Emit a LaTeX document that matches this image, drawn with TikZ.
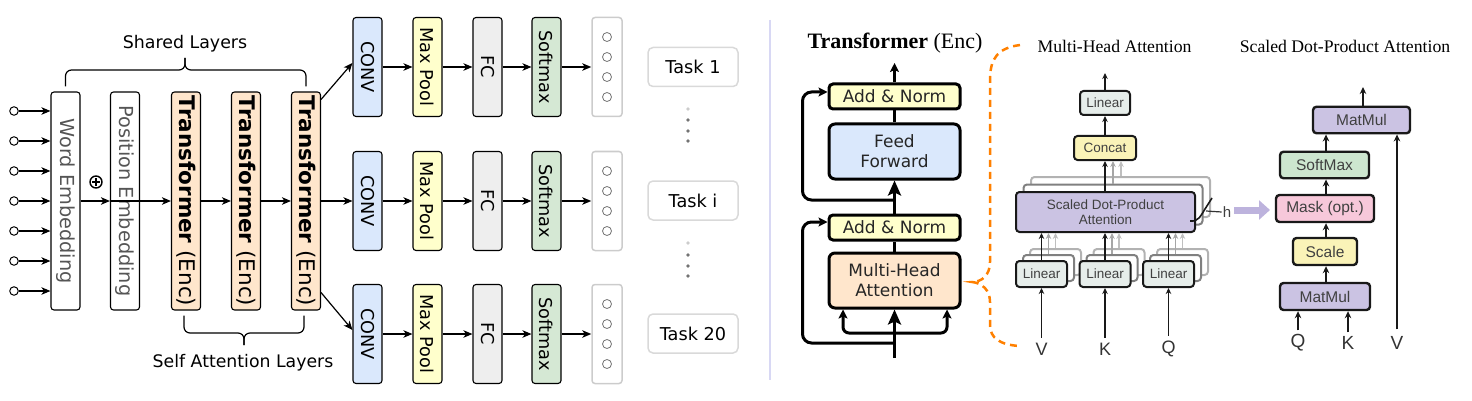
\documentclass[tikz,border=0pt]{standalone}
\usepackage{fontspec}
\setmainfont{DejaVu Sans}
\newfontfamily\timesfont{Liberation Serif}
\newfontfamily\arialfont{Liberation Sans}
\usepackage{xcolor}
\usepackage{tikz}
\usetikzlibrary{arrows.meta}

\definecolor{peach}{HTML}{FFE6CC}
\definecolor{convblue}{HTML}{DAE8FC}
\definecolor{poolyellow}{HTML}{FFFFCC}
\definecolor{fcgray}{HTML}{EEEEEE}
\definecolor{softgreen}{HTML}{D5E8D4}
\definecolor{txtgray}{HTML}{555555}
\definecolor{sepblue}{HTML}{D8D8F4}
\definecolor{braceorange}{HTML}{FF8000}
\definecolor{linfill}{HTML}{E6EDEA}
\definecolor{catfill}{HTML}{FAF3B8}
\definecolor{sdpfill}{HTML}{CBC3E3}
\definecolor{maskpink}{HTML}{F7C8DA}
\definecolor{smgreen}{HTML}{CDE6CF}
\definecolor{hlav}{HTML}{BDB3DD}

\tikzset{
  vbox/.style={draw, line width=1.1pt, rounded corners=3pt, minimum width=29pt, minimum height=218pt, inner sep=0pt},
  rbox/.style={vbox, minimum height=99pt},
  vtext/.style={rotate=-90, font=\fontsize{17.7}{20}\selectfont},
  embtext/.style={vtext, text=txtgray, font=\fontsize{19.3}{22}\selectfont},
  larr/.style={line width=1.2pt, -{Stealth[length=9pt,width=7.5pt,inset=2.5pt]}},
  incirc/.style={circle, draw, line width=1pt, fill=white, minimum size=8.5pt, inner sep=0pt},
  ocirc/.style={circle, draw=black!55, line width=0.8pt, minimum size=9pt, inner sep=0pt},
  taskbox/.style={draw=black!15, line width=1.5pt, rounded corners=5pt, minimum width=90pt, minimum height=39pt, font=\fontsize{17.7}{20}\selectfont},
  bracepath/.style={line width=1.2pt, rounded corners=6pt},
  encbox/.style={draw, line width=3pt, rounded corners=6pt, minimum width=131pt, inner sep=0pt, align=center, text=black!85, font=\fontsize{17}{20}\selectfont},
  earr/.style={line width=3pt, -{Stealth[length=9pt,width=9pt,inset=2pt]}},
  bigarr/.style={line width=3pt, -{Stealth[length=15pt,width=13pt,inset=3pt]}},
  mhbox/.style={draw=black!90, line width=2pt, rounded corners=3.5pt, inner sep=0pt, align=center, text=black!75, font=\arialfont\fontsize{13.5}{15}\selectfont},
  ghost/.style={mhbox, draw=black!30, fill=white},
  mharr/.style={line width=1.8pt, black!90, -{Stealth[length=6pt,width=5.5pt]}},
  ghostarr/.style={mharr, black!35},
  sdbox/.style={mhbox, line width=2.4pt, minimum height=26.5pt, font=\arialfont\fontsize{15.5}{17}\selectfont},
  sdarr/.style={line width=2.2pt, black!90, -{Stealth[length=7pt,width=6.5pt]}}
}

\begin{document}
\begin{tikzpicture}[x=1pt, y=-1pt]
    \useasboundingbox (0,0) rectangle (1472,401);

    % shared layers
    \node[vbox, label={[embtext]center:Word Embedding}] (we) at (65.5,201) {};
    \node[vbox, label={[embtext]center:Position Embedding}] (pe) at (125,201) {};
    \node[vbox, fill=peach, label={[vtext, font=\fontsize{21.5}{24}\selectfont]center:{\bfseries Transformer} (Enc)}] (t1) at (186,201) {};
    \node[vbox, fill=peach, label={[vtext, font=\fontsize{21.5}{24}\selectfont]center:{\bfseries Transformer} (Enc)}] (t2) at (246,201) {};
    \node[vbox, fill=peach, label={[vtext, font=\fontsize{21.5}{24}\selectfont]center:{\bfseries Transformer} (Enc)}] (t3) at (306,201) {};

    \foreach \y [count=\i] in {111,141,171,201,231,261,291} {
        \node[incirc] (in\i) at (14,\y) {};
        \draw[larr] (in\i) -- (in\i -| we.west);
    }

    \node[circle, draw, line width=1.4pt, minimum size=12pt, inner sep=0pt] (plus) at (96,182) {};
    \draw[line width=1.7pt] ([yshift=3.6pt]plus.center) -- ([yshift=-3.6pt]plus.center);
    \draw[line width=1.7pt] ([xshift=-3.6pt]plus.center) -- ([xshift=3.6pt]plus.center);

    \draw[larr] (we) -- (pe);
    \draw[larr] (pe.west) -- (t1);
    \draw[larr] (t1) -- (t2);
    \draw[larr] (t2) -- (t3);

    % braces
    \draw[bracepath] ([yshift=5pt]we.north) |- (185,70) -- (185,58);
    \draw[bracepath] ([yshift=5pt]t3.north) |- (185,70) -- (185,58);
    \node[font=\fontsize{17.4}{20}\selectfont] (sharedlab) at (185,44) {Shared Layers};
    \draw[bracepath] ([xshift=-2pt,yshift=-5pt]t1.south) |- (244,333) -- (244,345);
    \draw[bracepath] ([xshift=-2pt,yshift=-5pt]t3.south) |- (244,333) -- (244,345);
    \node[font=\fontsize{17.3}{20}\selectfont] (selflab) at (243,363) {Self Attention Layers};

    % task heads
    \foreach \r/\y in {1/67,2/201,3/334} {
        \node[rbox, fill=convblue, label={[vtext]center:CONV}] (conv\r) at (367.5,\y) {};
        \node[rbox, fill=poolyellow, label={[vtext]center:Max Pool}] (pool\r) at (427.5,\y) {};
        \node[rbox, fill=fcgray, label={[vtext]center:FC}] (fc\r) at (487.5,\y) {};
        \node[rbox, fill=softgreen, label={[vtext]center:Softmax}] (soft\r) at (546.5,\y) {};
        \node[rbox, draw=black!20, line width=1.5pt, minimum width=30pt] (out\r) at (607,\y) {};
        \foreach \k/\dy in {1/-30,2/-10,3/10,4/30}
            \node[ocirc] (o\r\k) at (607,\y+\dy) {};
        \draw[larr] (conv\r) -- (pool\r);
        \draw[larr] (pool\r) -- (fc\r);
        \draw[larr] (fc\r) -- (soft\r);
        \draw[larr] (soft\r) -- (out\r);
    }
    \draw[larr] ([yshift=-8pt]t3.north east) -- ([yshift=4pt]conv1.west);
    \draw[larr] (t3) -- (conv2);
    \draw[larr] ([yshift=18pt]t3.south east) -- ([yshift=4pt]conv3.west);

    \node[taskbox] (task1) at (693,67) {Task 1};
    \node[taskbox] (taski) at (693,200.5) {Task i};
    \node[taskbox] (task20) at (693,333.5) {Task 20};
    \foreach \y/\c in {109/black!20,120/black!55,131/black!55,141/black!55,243/black!20,255/black!55,266/black!55,276/black!55}
        \fill[\c] (688,\y) circle (1.8);

    % separator
    \draw[sepblue, line width=2.5pt] (770,20) -- (770,380);

    % transformer encoder
    \node[font=\timesfont\fontsize{22}{24}\selectfont] (enchead) at (895,43) {\bfseries Transformer \mdseries(Enc)};
    \node[encbox, fill=poolyellow, minimum height=25pt, rounded corners=4pt] (an2) at (894.5,96.5) {Add \& Norm};
    \node[encbox, fill=convblue, minimum height=55pt] (ff) at (894.5,151.5) {Feed\\Forward};
    \node[encbox, fill=poolyellow, minimum height=25pt, rounded corners=4pt] (an1) at (894.5,227.5) {Add \& Norm};
    \node[encbox, fill=peach, minimum height=55pt] (mha) at (894.5,280.5) {Multi-Head\\Attention};
    \coordinate (encin) at (894.5,358);
    \coordinate (encout) at (894.5,63);
    \coordinate (split) at (894.5,333);
    \coordinate (res1) at (894.5,343);
    \coordinate (res2) at (894.5,200);

    \draw[bigarr] (encin) -- (mha);
    \draw[earr, rounded corners=6pt] (split) -| ([xshift=-51.5pt]mha.south);
    \draw[earr, rounded corners=6pt] (split) -| ([xshift=52.5pt]mha.south);
    \draw[line width=3pt] (mha) -- (an1);
    \draw[earr, rounded corners=9pt] (res1) -| ([xshift=-25pt,yshift=5.5pt]an1.west) -- ([yshift=5.5pt]an1.west);
    \draw[bigarr] (an1) -- (ff);
    \draw[line width=3pt] (ff) -- (an2);
    \draw[earr, rounded corners=9pt] (res2) -| ([xshift=-25pt,yshift=4.5pt]an2.west) -- ([yshift=4.5pt]an2.west);
    \draw[earr] (an2) -- (encout);

    % dashed zoom brace
    \draw[braceorange, line width=2.5pt, dash pattern=on 7pt off 5pt]
        (1020,45) .. controls (998,48) and (990,58) .. (990,80) -- (990,262)
        .. controls (990,275) and (982,282) .. (972,282)
        .. controls (982,283) and (990,290) .. (990,302) -- (990,325)
        .. controls (990,338) and (1000,345) .. (1020,346);

    % multi-head attention
    \node[font=\timesfont\fontsize{17.7}{20}\selectfont] (mhhead) at (1114.5,46) {Multi-Head Attention};
    \node[mhbox, fill=linfill, minimum width=50pt, minimum height=24pt] (mlin) at (1105,103) {Linear};
    \node[mhbox, fill=catfill, minimum width=62pt, minimum height=24pt] (concat) at (1105,148) {Concat};
    \node[ghost, minimum width=179pt, minimum height=40pt] (sdpg2) at (1120.5,197) {};
    \node[ghost, draw=black!50, minimum width=179pt, minimum height=40pt] (sdpg1) at (1113,204.5) {};
    \node[mhbox, fill=sdpfill, minimum width=179pt, minimum height=40pt] (sdpa) at (1105.5,212) {Scaled Dot-Product\\Attention};
    \draw[ghostarr, black!25] (sdpg2.north -| 1121,0) -- (concat.south -| 1121,0);
    \draw[ghostarr] (sdpg1.north -| 1113,0) -- (concat.south -| 1113,0);
    \draw[mharr] (sdpa.north -| concat) -- (concat);
    \draw[mharr] (concat) -- (mlin);
    \coordinate (mhout) at (1105,73);
    \draw[mharr] (mlin) -- (mhout);

    \foreach \x/\l [count=\i] in {1041.5/V,1105/K,1168.5/Q} {
        \node[ghost, minimum width=51pt, minimum height=26pt] (lgb\i) at (\x+14,262) {};
        \node[ghost, draw=black!50, minimum width=51pt, minimum height=26pt] (lga\i) at (\x+7,268) {};
        \node[mhbox, fill=linfill, minimum width=51pt, minimum height=26pt] (lin\i) at (\x,274) {Linear};
        \draw[ghostarr, black!25] (lgb\i.north) -- (lgb\i.north |- sdpa.south);
        \draw[ghostarr] (lga\i.north) -- (lga\i.north |- sdpa.south);
        \draw[mharr] (lin\i) -- (lin\i |- sdpa.south);
        \node[font=\arialfont\fontsize{18}{20}\selectfont, text=black!80, inner sep=1pt] (mhin\i) at (\x,349) {\l};
        \draw[mharr] ([yshift=4pt]mhin\i.north) -- (lin\i);
    }

    % h marker
    \node[font=\arialfont\fontsize{15}{16}\selectfont, text=black!75, inner sep=1pt] (hlab) at (1227,212) {h};
    \draw[line width=1.6pt, black!90] (1190,221) .. controls (1199,222) and (1201,215) .. (1205,209) -- (1212,198);
    \draw[line width=1.2pt, black!80] (1206,211) -- (hlab.west);
    \coordinate (hstart) at (1234,210);
    \coordinate (hend) at (1270,210);
    \draw[hlav, line width=7pt, -{Triangle[length=11pt,width=19pt]}] (hstart) -- (hend);

    % scaled dot-product attention
    \node[font=\timesfont\fontsize{17.7}{20}\selectfont] (sdhead) at (1345,46) {Scaled Dot-Product Attention};
    \node[sdbox, fill=sdpfill, minimum width=97pt] (mm2) at (1361.5,120) {MatMul};
    \node[sdbox, fill=smgreen, minimum width=89pt] (smax) at (1324.5,165) {SoftMax};
    \node[sdbox, fill=maskpink, minimum width=98pt, minimum height=27pt] (mask) at (1325,208.5) {Mask (opt.)};
    \node[sdbox, fill=catfill, minimum width=64pt, minimum height=27pt] (scale) at (1325,251.5) {Scale};
    \node[sdbox, fill=sdpfill, minimum width=90pt, minimum height=27pt] (mm1) at (1325,296.5) {MatMul};
    \node[font=\arialfont\fontsize{19}{21}\selectfont, text=black!80, inner sep=1pt] (qin) at (1298,343) {Q};
    \node[font=\arialfont\fontsize{19}{21}\selectfont, text=black!80, inner sep=1pt] (kin) at (1348,343) {K};
    \node[font=\arialfont\fontsize{19}{21}\selectfont, text=black!80, inner sep=1pt] (vin) at (1397,343) {V};
    \coordinate (sdout) at (1363,87);
    \draw[sdarr] (mm2.north -| sdout) -- (sdout);
    \draw[sdarr] (smax.north -| 1326,0) -- (mm2.south -| 1326,0);
    \draw[sdarr] (mask.north -| 1326,0) -- (smax.south -| 1326,0);
    \draw[sdarr] (scale.north -| 1326,0) -- (mask.south -| 1326,0);
    \draw[sdarr] (mm1.north -| 1326,0) -- (scale.south -| 1326,0);
    \draw[sdarr] ([yshift=3pt]qin.north) -- (qin |- mm1.south);
    \draw[sdarr] ([yshift=3pt]kin.north) -- (kin |- mm1.south);
    \draw[sdarr] ([yshift=6pt]vin.north) -- (vin |- mm2.south);
\end{tikzpicture}
\end{document}
